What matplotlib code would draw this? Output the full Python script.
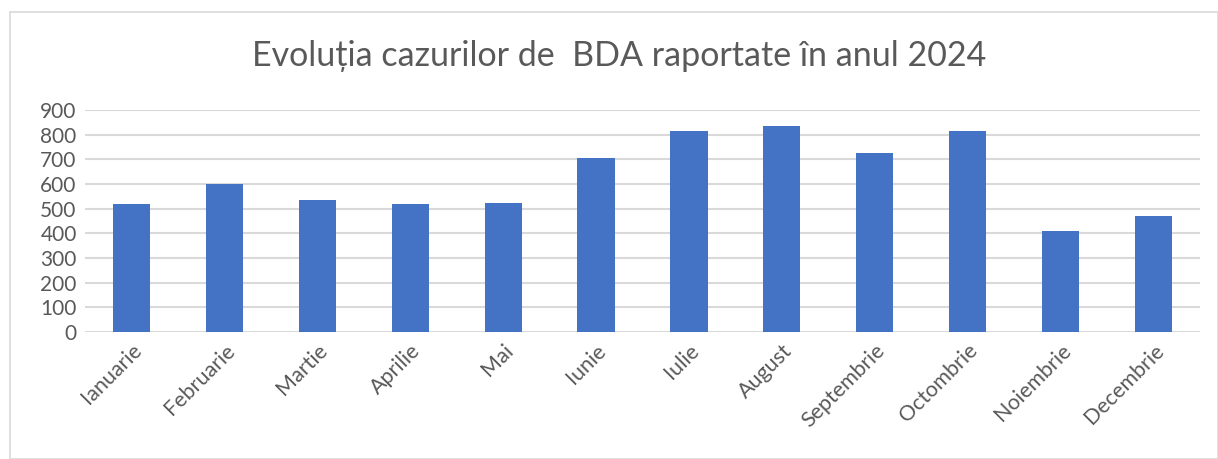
import matplotlib.pyplot as plt
from matplotlib.patches import Rectangle

luni = ["Ianuarie", "Februarie", "Martie", "Aprilie", "Mai", "Iunie", "Iulie",
        "August", "Septembrie", "Octombrie", "Noiembrie", "Decembrie"]
cazuri = [520, 602, 535, 520, 524, 705, 816, 836, 724, 816, 411, 472]
yticks = [0, 100, 200, 300, 400, 500, 600, 700, 800, 900]

plt.rcParams["font.family"] = ["Lato", "DejaVu Sans"]
gri = "#595959"

fig = plt.figure(figsize=(12.18, 4.59), dpi=100)
fig.patches.append(Rectangle((10 / 1218, 0), 1 - 10 / 1218, 1 - 12 / 459,
                             transform=fig.transFigure, fill=False,
                             edgecolor="#d9d9d9", linewidth=1.2))

ax = fig.add_axes([85 / 1218, 1 - 332 / 459, 1115 / 1218, 222 / 459])
x = range(len(luni))
ax.bar(x, cazuri, width=0.4, color="#4472c4", zorder=3)
ax.set_xlim(-0.5, len(luni) - 0.5)
ax.set_ylim(0, 900)
ax.set_yticks(yticks)
ax.set_yticklabels([str(v) for v in yticks], fontsize=15, color=gri)
ax.set_xticks(list(x))
ax.set_xticklabels(luni, rotation=45, ha="right", rotation_mode="anchor",
                   fontsize=15.5, color=gri)
ax.tick_params(length=0, pad=6)
ax.grid(axis="y", color="#d9d9d9", linewidth=1.5, zorder=0)
for s in ax.spines.values():
    s.set_visible(False)

fig.text(619 / 1218, 1 - 56 / 459, "Evoluția cazurilor de  BDA raportate în anul 2024",
         ha="center", va="center", fontsize=24.5, color=gri)

fig.savefig("out.png", dpi=100)
